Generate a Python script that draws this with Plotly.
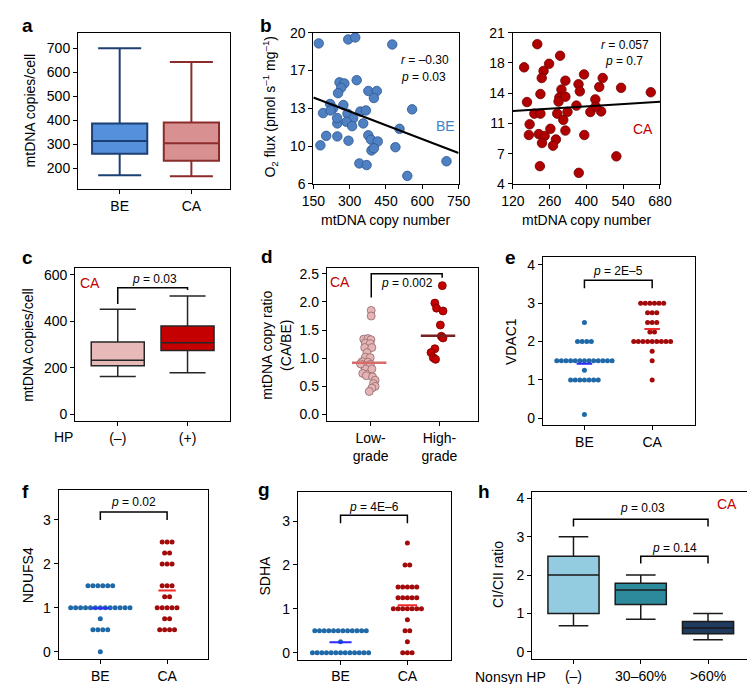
import numpy as np
import plotly.graph_objects as go

W, H = 755, 684
FONT = "Liberation Sans, Arial, Helvetica, sans-serif"

# ---------------- data ----------------
# a: mtDNA copies/cell boxes
A_CATS = ["BE", "CA"]
A_Q1 = [261, 232]
A_MED = [314, 305]
A_Q3 = [387, 391]
A_LO = [172, 167]
A_HI = [700, 643]

# b: O2 flux vs mtDNA copy number
B_BE_X = [172, 294, 323, 476, 329, 258, 278, 265, 252, 377, 412, 400, 219, 232, 274, 190, 221,
          291, 344, 367, 314, 287, 249, 356, 310, 248, 558, 506, 203, 249, 295, 377, 388, 416,
          179, 390, 400, 489, 340, 370, 538, 700]
B_BE_Y = [19.0, 19.37, 19.55, 18.9, 15.6, 15.4, 15.3, 14.9, 14.4, 14.6, 14.6, 13.95, 13.4, 13.0,
          13.3, 12.56, 12.8, 12.5, 12.7, 12.8, 12.05, 11.75, 11.6, 11.6, 11.35, 12.1, 12.9, 11.1,
          10.45, 10.4, 10.0, 10.5, 10.1, 9.93, 9.57, 9.1, 9.3, 9.4, 7.9, 7.75, 6.75, 8.1]
B_BE_FIT = (15.28, -0.00855)   # intercept, slope
B_CA_X = [163, 213, 300, 258, 237, 230, 391, 320, 370, 462, 449, 532, 645, 375, 305, 225, 297,
          320, 294, 174, 434, 362, 415, 456, 435, 289, 202, 225, 328, 312, 184, 263, 320, 181,
          219, 241, 392, 284, 231, 273, 514, 223, 371]
B_CA_Y = [17.1, 19.7, 18.4, 17.5, 16.7, 15.9, 16.3, 15.6, 15.2, 15.9, 14.9, 14.8, 14.3, 14.4,
          14.6, 14.1, 13.7, 13.8, 13.25, 13.2, 13.5, 12.8, 12.08, 12.15, 12.7, 11.9, 11.9, 11.9,
          12.1, 11.2, 10.7, 10.2, 10.0, 9.5, 9.6, 9.4, 9.5, 9.0, 8.6, 8.3, 7.1, 6.0, 5.25]
B_CA_FIT = (11.96, 0.00189)
B_BE_YTICKS = [6, 9.5, 13, 16.5, 20]
B_BE_YTEXT = ["6", "10", "13", "17", "20"]
B_CA_YTICKS = [4, 7.4, 10.8, 14.2, 17.6, 21]
B_CA_YTEXT = ["4", "7", "11", "14", "18", "21"]

# c: CA, HP(-) vs HP(+)
C_CATS = ["(–)", "(+)"]
C_Q1 = [209, 275]
C_MED = [233, 308]
C_Q3 = [311, 380]
C_LO = [163, 179]
C_HI = [452, 509]

# d: mtDNA copy ratio by grade
D_CATS = ["Low-<br>grade", "High-<br>grade"]
D_LOW_Y = [1.85, 1.75, 1.34, 1.35, 1.33, 1.27, 1.26, 1.19, 1.19, 1.10, 1.02, 1.01, 0.94, 0.93,
           0.87, 0.89, 0.81, 0.73, 0.73, 0.69, 0.67, 0.61, 0.55, 0.50, 0.47, 0.41, 0.90, 0.81]
D_LOW_JIT = [0.009, 0.009, -0.099, -0.038, 0.005, -0.075, -0.005, -0.085, 0.019, -0.052, -0.075,
             -0.005, -0.122, -0.038, -0.099, -0.005, -0.075, -0.113, -0.019, -0.061, 0.028, 0.066,
             0.042, 0.066, 0.019, -0.019, -0.146, 0.019]
D_HIGH_Y = [2.29, 1.98, 1.89, 1.84, 1.59, 1.39, 1.36, 1.17, 1.10, 1.01, 0.98]
D_HIGH_JIT = [0.042, -0.066, -0.042, 0.052, 0.014, 0.028, 0.052, -0.066, -0.122, -0.089, -0.056]
D_MEDIANS = [0.92, 1.40]

# e-g: dot strips (value levels and counts)
E_BE_LEVELS = [2.5, 2.0, 1.5, 1.25, 1.0, 0.1]
E_BE_COUNTS = [1, 4, 13, 1, 7, 1]
E_CA_LEVELS = [3.0, 2.75, 2.5, 2.25, 2.0, 1.75, 1.5, 1.0]
E_CA_COUNTS = [6, 3, 3, 2, 9, 1, 1, 1]
F_BE_LEVELS = [1.5, 1.0, 0.75, 0.5, 0.0]
F_BE_COUNTS = [6, 13, 1, 4, 1]
F_CA_LEVELS = [2.5, 2.25, 2.0, 1.5, 1.25, 1.0, 0.75, 0.5]
F_CA_COUNTS = [3, 2, 3, 3, 2, 5, 2, 4]
G_BE_LEVELS = [0.5, 0.25, 0.0]
G_BE_COUNTS = [12, 1, 13]
G_CA_LEVELS = [2.5, 2.0, 1.5, 1.25, 1.0, 0.75, 0.5, 0.25, 0.0]
G_CA_COUNTS = [1, 2, 5, 5, 7, 1, 2, 1, 3]
STRIP_CATS = ["BE", "CA"]

# h: CI/CII ratio
H_CATS = ["(–)", "30–60%", ">60%"]
H_Q1 = [1.0, 1.23, 0.47]
H_MED = [2.0, 1.61, 0.62]
H_Q3 = [2.49, 1.79, 0.79]
H_LO = [0.68, 0.85, 0.31]
H_HI = [3.0, 2.0, 1.0]

# ---------------- helpers ----------------
fig = go.Figure()
layout = {}
TICK = 14
TITLE = 14


def ax_names(i):
    return ("x" if i == 1 else f"x{i}", "y" if i == 1 else f"y{i}",
            "xaxis" if i == 1 else f"xaxis{i}", "yaxis" if i == 1 else f"yaxis{i}")


COMMON = dict(showline=True, linecolor="black", linewidth=1.2, mirror=True, ticks="outside",
              ticklen=4, tickcolor="black", tickwidth=1.2, showgrid=False, zeroline=False,
              tickfont=dict(size=TICK, color="black", family=FONT))


def add_axes(i, px_box, xkw, ykw):
    x0, x1, y0, y1 = px_box
    xr, yr, xn, yn = ax_names(i)
    layout[xn] = dict(domain=[x0 / W, x1 / W], anchor=yr, **COMMON, **xkw)
    layout[yn] = dict(domain=[1 - y1 / H, 1 - y0 / H], anchor=xr, **COMMON, **ykw)


annotations = []
shapes = []


def paper_text(x, y, text, size=TITLE, color="black", angle=0, bold=False, xanchor="center"):
    if bold:
        text = f"<b>{text}</b>"
    annotations.append(dict(x=x / W, y=1 - y / H, xref="paper", yref="paper", text=text,
                            showarrow=False, textangle=angle, xanchor=xanchor, yanchor="middle",
                            font=dict(size=size, color=color, family=FONT)))


def data_text(i, x, y, text, size=12, color="black"):
    xr, yr, _, _ = ax_names(i)
    annotations.append(dict(x=x, y=y, xref=xr, yref=yr, text=text, showarrow=False,
                            xanchor="center", yanchor="middle",
                            font=dict(size=size, color=color, family=FONT)))


def bracket(i, x0, x1, yl, yt, yr_):
    xr, yr, _, _ = ax_names(i)
    shapes.append(dict(type="path", xref=xr, yref=yr,
                       path=f"M {x0},{yl} L {x0},{yt} L {x1},{yt} L {x1},{yr_}",
                       line=dict(color="black", width=1.5)))


def add_boxes(i, q1, med, q3, lo, hi, fills, lines, width, ww, lw):
    xr, yr, _, _ = ax_names(i)
    for k in range(len(q1)):
        fig.add_trace(go.Box(x=[k + 1], q1=[q1[k]], median=[med[k]], q3=[q3[k]],
                             lowerfence=[lo[k]], upperfence=[hi[k]], width=width,
                             whiskerwidth=ww, fillcolor=fills[k],
                             line=dict(color=lines[k], width=lw), boxpoints=False,
                             xaxis=xr, yaxis=yr, showlegend=False, hoverinfo="skip"))


def add_strip(i, pos, levels, counts, color, step, size=5):
    xr, yr, _, _ = ax_names(i)
    xs, ys = [], []
    for v, n in zip(levels, counts):
        offs = (np.arange(n) - (n - 1) / 2) * step
        xs.extend(pos + offs)
        ys.extend([v] * n)
    fig.add_trace(go.Scatter(x=xs, y=ys, mode="markers", xaxis=xr, yaxis=yr, showlegend=False,
                             marker=dict(size=size, color=color, line=dict(width=0)),
                             hoverinfo="skip"))
    return np.repeat(levels, counts)


def add_hline(i, pos, val, half, color, width=2):
    xr, yr, _, _ = ax_names(i)
    fig.add_trace(go.Scatter(x=[pos - half, pos + half], y=[val, val], mode="lines",
                             xaxis=xr, yaxis=yr, showlegend=False,
                             line=dict(color=color, width=width), hoverinfo="skip"))


BE_DOT = "#1f69a8"
CA_DOT = "#a30a0a"
BE_MEAN = "#2a2aff"
CA_MEAN = "#ee2a2a"

# ---------------- panel a ----------------
add_axes(1, (60, 217, 17, 177),
         dict(range=[0.42, 2.54], tickvals=[1, 2], ticktext=A_CATS),
         dict(range=[115, 765], tickvals=[200, 300, 400, 500, 600, 700]))
add_boxes(1, A_Q1, A_MED, A_Q3, A_LO, A_HI, ["#5590dc", "#d99090"], ["#1d3f73", "#8b2c2c"],
          0.77, 0.78, 2)
paper_text(10, 97, "mtDNA copies/cell", angle=-90)
paper_text(0, 10, "a", size=19, bold=True, xanchor="left")

# ---------------- panel b ----------------
add_axes(2, (303, 453, 17, 172),
         dict(range=[150, 750], tickvals=[150, 300, 450, 600, 750]),
         dict(range=[6, 20], tickvals=B_BE_YTICKS, ticktext=B_BE_YTEXT))
add_axes(3, (509, 661, 17, 172),
         dict(range=[120, 680], tickvals=[120, 260, 400, 540, 680]),
         dict(range=[4, 21], tickvals=B_CA_YTICKS, ticktext=B_CA_YTEXT))
fig.add_trace(go.Scatter(x=B_BE_X, y=B_BE_Y, mode="markers", xaxis="x2", yaxis="y2",
                         marker=dict(size=9.5, color="#4f80c2", line=dict(color="#2c5590", width=0.8)),
                         showlegend=False, hoverinfo="skip"))
fx = np.array([150, 750])
fig.add_trace(go.Scatter(x=fx, y=B_BE_FIT[0] + B_BE_FIT[1] * fx, mode="lines", xaxis="x2",
                         yaxis="y2", line=dict(color="black", width=2), showlegend=False))
fig.add_trace(go.Scatter(x=B_CA_X, y=B_CA_Y, mode="markers", xaxis="x3", yaxis="y3",
                         marker=dict(size=9.5, color="#b00000", line=dict(color="#6e0000", width=0.8)),
                         showlegend=False, hoverinfo="skip"))
fx2 = np.array([120, 680])
fig.add_trace(go.Scatter(x=fx2, y=B_CA_FIT[0] + B_CA_FIT[1] * fx2, mode="lines", xaxis="x3",
                         yaxis="y3", line=dict(color="black", width=2), showlegend=False))
paper_text(258, 93, "O<sub>2</sub> flux (pmol s<sup>–1</sup> mg<sup>–1</sup>)", angle=-90)
paper_text(378, 209, "mtDNA copy number")
paper_text(585, 209, "mtDNA copy number")
paper_text(418, 45, "<i>r</i> = –0.30", size=12)
paper_text(417, 62, "<i>p</i> = 0.03", size=12)
paper_text(439, 113, "BE", size=14, color="#3a86c8")
paper_text(625, 30, "<i>r</i> = 0.057", size=12)
paper_text(624, 46, "<i>p</i> = 0.7", size=12)
paper_text(643, 116, "CA", size=14, color="#c00000")
paper_text(246, 10, "b", size=19, bold=True, xanchor="left")

# ---------------- panel c ----------------
add_axes(4, (57, 217, 258, 415),
         dict(range=[0.39, 2.61], tickvals=[1, 2], ticktext=C_CATS),
         dict(range=[-29, 629], tickvals=[0, 200, 400, 600]))
add_boxes(4, C_Q1, C_MED, C_Q3, C_LO, C_HI, ["#e8b9b9", "#c40000"], ["#262626", "#262626"],
          0.76, 0.68, 1.5)
bracket(4, 1, 2, 474, 544, 534)
data_text(4, 1.52, 582, "<i>p</i> = 0.03")
paper_text(72, 273, "CA", size=14, color="#c00000")
paper_text(8, 337, "mtDNA copies/cell", angle=-90)
paper_text(45, 431, "HP")
paper_text(0, 247, "c", size=19, bold=True, xanchor="left")

# ---------------- panel d ----------------
add_axes(5, (317, 473, 258, 415),
         dict(range=[0.366, 2.56], tickvals=[1, 2], ticktext=D_CATS),
         dict(range=[-0.12, 2.604], tickvals=[0, 0.5, 1.0, 1.5, 2.0, 2.5], tickformat=".1f"))
fig.add_trace(go.Scatter(x=1 + np.array(D_LOW_JIT), y=D_LOW_Y, mode="markers", xaxis="x5",
                         yaxis="y5", showlegend=False, hoverinfo="skip",
                         marker=dict(size=8, color="#e6b4b4", line=dict(color="#8f6a6a", width=0.8))))
fig.add_trace(go.Scatter(x=2 + np.array(D_HIGH_JIT), y=D_HIGH_Y, mode="markers", xaxis="x5",
                         yaxis="y5", showlegend=False, hoverinfo="skip",
                         marker=dict(size=8, color="#c40000", line=dict(color="#7a0000", width=0.8))))
add_hline(5, 0.98, D_MEDIANS[0], 0.25, "#d86a6a", 2.5)
add_hline(5, 1.98, D_MEDIANS[1], 0.25, "#7a2020", 2.5)
bracket(5, 1.01, 2.04, 2.08, 2.5, 2.43)
data_text(5, 1.53, 2.34, "<i>p</i> = 0.002")
paper_text(331, 272, "CA", size=14, color="#c00000")
paper_text(265, 337, "mtDNA copy ratio<br>(CA/BE)", angle=-90)
paper_text(247, 246, "d", size=19, bold=True, xanchor="left")

# ---------------- panel e ----------------
add_axes(6, (540, 697, 247, 419),
         dict(range=[0.386, 2.63], tickvals=[1, 2], ticktext=STRIP_CATS),
         dict(range=[-0.18, 4.2], tickvals=[0, 1, 2, 3, 4]))
v = add_strip(6, 1, E_BE_LEVELS, E_BE_COUNTS, BE_DOT, 0.068)
add_hline(6, 1, v.mean(), 0.115, BE_MEAN)
v = add_strip(6, 2, E_CA_LEVELS, E_CA_COUNTS, CA_DOT, 0.068)
add_hline(6, 2, v.mean(), 0.115, CA_MEAN)
bracket(6, 1, 2, 3.39, 3.6, 3.39)
data_text(6, 1.5, 3.83, "<i>p</i> = 2E–5")
paper_text(507, 333, "VDAC1", angle=-90)
paper_text(499, 247, "e", size=19, bold=True, xanchor="left")

# ---------------- panel f ----------------
add_axes(7, (40, 194, 485, 658),
         dict(range=[0.377, 2.61], tickvals=[1, 2], ticktext=STRIP_CATS),
         dict(range=[-0.156, 3.69], tickvals=[0, 1, 2, 3]))
v = add_strip(7, 1, F_BE_LEVELS, F_BE_COUNTS, BE_DOT, 0.074)
add_hline(7, 1, v.mean(), 0.13, BE_MEAN)
v = add_strip(7, 2, F_CA_LEVELS, F_CA_COUNTS, CA_DOT, 0.074)
add_hline(7, 2, v.mean(), 0.13, CA_MEAN)
bracket(7, 1, 2, 3.0, 3.18, 3.0)
data_text(7, 1.5, 3.42, "<i>p</i> = 0.02")
paper_text(8, 573, "NDUFS4", angle=-90)
paper_text(0, 487, "f", size=19, bold=True, xanchor="left")

# ---------------- panel g ----------------
add_axes(8, (287, 445, 487, 659),
         dict(range=[0.362, 2.65], tickvals=[1, 2], ticktext=STRIP_CATS),
         dict(range=[-0.156, 3.67], tickvals=[0, 1, 2, 3]))
v = add_strip(8, 1, G_BE_LEVELS, G_BE_COUNTS, BE_DOT, 0.07)
add_hline(8, 1, v.mean(), 0.165, BE_MEAN)
v = add_strip(8, 2, G_CA_LEVELS, G_CA_COUNTS, CA_DOT, 0.07)
add_hline(8, 2, v.mean(), 0.145, CA_MEAN)
bracket(8, 1, 2, 2.95, 3.13, 2.95)
data_text(8, 1.5, 3.33, "<i>p</i> = 4E–6")
paper_text(253, 573, "SDHA", angle=-90)
paper_text(244, 485, "g", size=19, bold=True, xanchor="left")

# ---------------- panel h ----------------
add_axes(9, (529, 753, 487, 658),
         dict(range=[0.386, 3.61], tickvals=[1, 2, 3], ticktext=H_CATS),
         dict(range=[-0.18, 4.18], tickvals=[0, 1, 2, 3, 4]))
add_boxes(9, H_Q1, H_MED, H_Q3, H_LO, H_HI, ["#93cbe0", "#2d8a9c", "#1f3b5e"],
          ["#1a1a1a", "#1a1a1a", "#1a1a1a"], 0.76, 0.58, 1.5)
bracket(9, 1, 3, 3.27, 3.46, 3.27)
data_text(9, 2.02, 3.76, "<i>p</i> = 0.03")
bracket(9, 2, 3, 2.30, 2.49, 2.30)
data_text(9, 2.5, 2.72, "<i>p</i> = 0.14")
paper_text(730, 500, "CA", size=14, color="#c00000")
paper_text(493, 572, "CI/CII ratio", angle=-90)
paper_text(507, 677, "Nonsyn HP")
paper_text(471, 487, "h", size=19, bold=True, xanchor="left")

fig.update_layout(**layout)
fig.update_layout(width=W, height=H, autosize=False, margin=dict(l=0, r=0, t=0, b=0),
                  plot_bgcolor="white", paper_bgcolor="white", boxmode="overlay",
                  font=dict(family=FONT, size=TICK, color="black"),
                  annotations=annotations, shapes=shapes, showlegend=False)

fig.write_html("out.html")
